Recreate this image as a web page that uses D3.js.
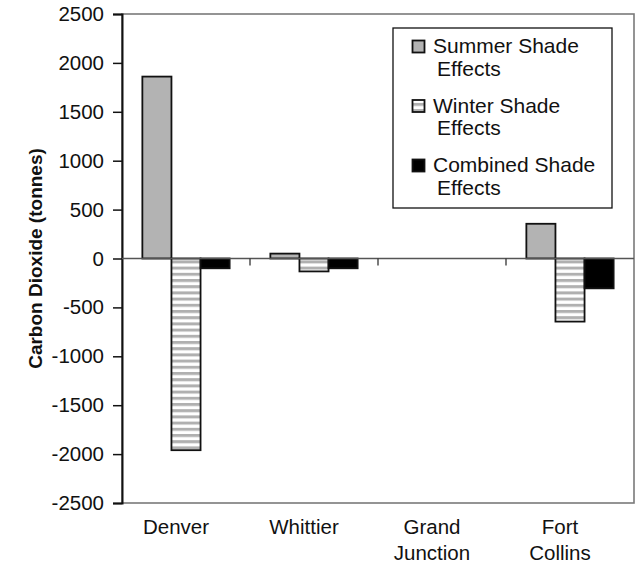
<!DOCTYPE html>
<html>
<head>
<meta charset="utf-8">
<script src="https://cdn.jsdelivr.net/npm/d3@7"></script>
<style>
  body { margin: 0; background: #fff; }
  text { font-family: "Liberation Sans", Arial, sans-serif; fill: #111; }
</style>
</head>
<body>
<div id="chart"></div>
<script>
// chart data
var cities = [["Denver"], ["Whittier"], ["Grand", "Junction"], ["Fort", "Collins"]];
var seriesNames = ["Summer Shade Effects", "Winter Shade Effects", "Combined Shade Effects"];
var legendLines = [["Summer Shade", "Effects"], ["Winter Shade", "Effects"], ["Combined Shade", "Effects"]];
var summer = [1860, 50, 0, 355];
var winter = [-1960, -132, 0, -645];
var combined = [-100, -100, 0, -305];
var yTicks = [2500, 2000, 1500, 1000, 500, 0, -500, -1000, -1500, -2000, -2500];

var W = 636, H = 564;
var plotL = 122, plotR = 634, plotT = 14, plotB = 503;

var svg = d3.select('#chart').append('svg')
  .attr('width', W).attr('height', H);

var defs = svg.append('defs');
var pat = defs.append('pattern')
  .attr('id', 'stripes')
  .attr('patternUnits', 'userSpaceOnUse')
  .attr('width', 8).attr('height', 6.2);
pat.append('rect').attr('width', 8).attr('height', 6.2).attr('fill', '#fff');
pat.append('rect').attr('y', 0).attr('width', 8).attr('height', 3).attr('fill', '#b0b0b0');

var fills = ['#b3b3b3', 'url(#stripes)', '#000'];

var y = d3.scaleLinear().domain([-2500, 2500]).range([plotB, plotT]);
var x0 = d3.scaleBand().domain(d3.range(cities.length)).range([plotL, plotR]).padding(0);
var x1 = d3.scaleBand().domain(d3.range(seriesNames.length)).range([0, x0.bandwidth()])
  .paddingInner(0).paddingOuter(0.7);

// plot frame (grey)
svg.append('rect')
  .attr('x', plotL).attr('y', plotT)
  .attr('width', plotR - plotL).attr('height', plotB - plotT)
  .attr('fill', 'none').attr('stroke', '#7a7a7a').attr('stroke-width', 1.6);

// y axis, plain hyphen for negatives like the original
var yAxis = d3.axisLeft(y).tickValues(yTicks).tickSize(9).tickPadding(9)
  .tickFormat(function(d) { return String(d); });
var gy = svg.append('g').attr('transform', 'translate(' + plotL + ',0)').call(yAxis);
gy.select('.domain').attr('stroke', '#111').attr('stroke-width', 2);
gy.selectAll('.tick line').attr('stroke', '#111').attr('stroke-width', 1.5);
gy.selectAll('.tick text')
  .style('font-family', '"Liberation Sans", Arial, sans-serif')
  .style('font-size', '20.5px').attr('fill', '#111');

// bars
var data = [summer, winter, combined];
var groups = svg.append('g').selectAll('g')
  .data(cities).join('g')
  .attr('transform', function(d, i) { return 'translate(' + x0(i) + ',0)'; });

groups.selectAll('rect')
  .data(function(d, i) { return data.map(function(s, k) { return {k: k, v: s[i]}; }); })
  .join('rect')
  .filter(function(d) { return d.v !== 0; })
  .attr('x', function(d) { return x1(d.k); })
  .attr('width', x1.bandwidth())
  .attr('y', function(d) { return y(Math.max(0, d.v)); })
  .attr('height', function(d) { return Math.abs(y(d.v) - y(0)); })
  .attr('fill', function(d) { return fills[d.k]; })
  .attr('stroke', '#111').attr('stroke-width', 1.8);

// zero line with category ticks
svg.append('line')
  .attr('x1', plotL).attr('x2', plotR)
  .attr('y1', y(0)).attr('y2', y(0))
  .attr('stroke', '#555').attr('stroke-width', 1.5);
svg.append('g').selectAll('line')
  .data(d3.range(1, cities.length))
  .join('line')
  .attr('x1', function(i) { return x0(i); }).attr('x2', function(i) { return x0(i); })
  .attr('y1', y(0)).attr('y2', y(0) + 7)
  .attr('stroke', '#333').attr('stroke-width', 1.3);

// category labels
var cats = svg.append('g').selectAll('text')
  .data(cities).join('text')
  .attr('text-anchor', 'middle')
  .attr('x', function(d, i) { return x0(i) + x0.bandwidth() / 2 - 10; })
  .attr('y', 534)
  .style('font-size', '20.5px');
cats.selectAll('tspan')
  .data(function(d) { return d; })
  .join('tspan')
  .attr('x', function() { return d3.select(this.parentNode).attr('x'); })
  .attr('dy', function(d, j) { return j === 0 ? 0 : 25.5; })
  .text(function(d) { return d; });

// y axis title
svg.append('text')
  .attr('transform', 'translate(42,' + ((plotT + plotB) / 2) + ') rotate(-90)')
  .attr('text-anchor', 'middle')
  .style('font-size', '19px').style('font-weight', 'bold')
  .text('Carbon Dioxide (tonnes)');

// legend
var lg = svg.append('g');
lg.append('rect')
  .attr('x', 393).attr('y', 28).attr('width', 219).attr('height', 180)
  .attr('fill', '#fff').attr('stroke', '#111').attr('stroke-width', 1.3);
var items = lg.selectAll('g.item')
  .data(seriesNames).join('g').attr('class', 'item')
  .attr('transform', function(d, k) { return 'translate(0,' + (k * 59.5) + ')'; });
items.append('rect')
  .attr('x', 412.5).attr('y', 40.5).attr('width', 12).attr('height', 12)
  .attr('fill', function(d, k) { return k === 1 ? 'url(#stripes)' : fills[k]; })
  .attr('stroke', '#111').attr('stroke-width', 1.8);
items.append('text')
  .attr('x', 433).attr('y', 53)
  .style('font-size', '21px')
  .text(function(d, k) { return legendLines[k][0]; });
items.append('text')
  .attr('x', 437).attr('y', 75.5)
  .style('font-size', '21px')
  .text(function(d, k) { return legendLines[k][1]; });
</script>
</body>
</html>
